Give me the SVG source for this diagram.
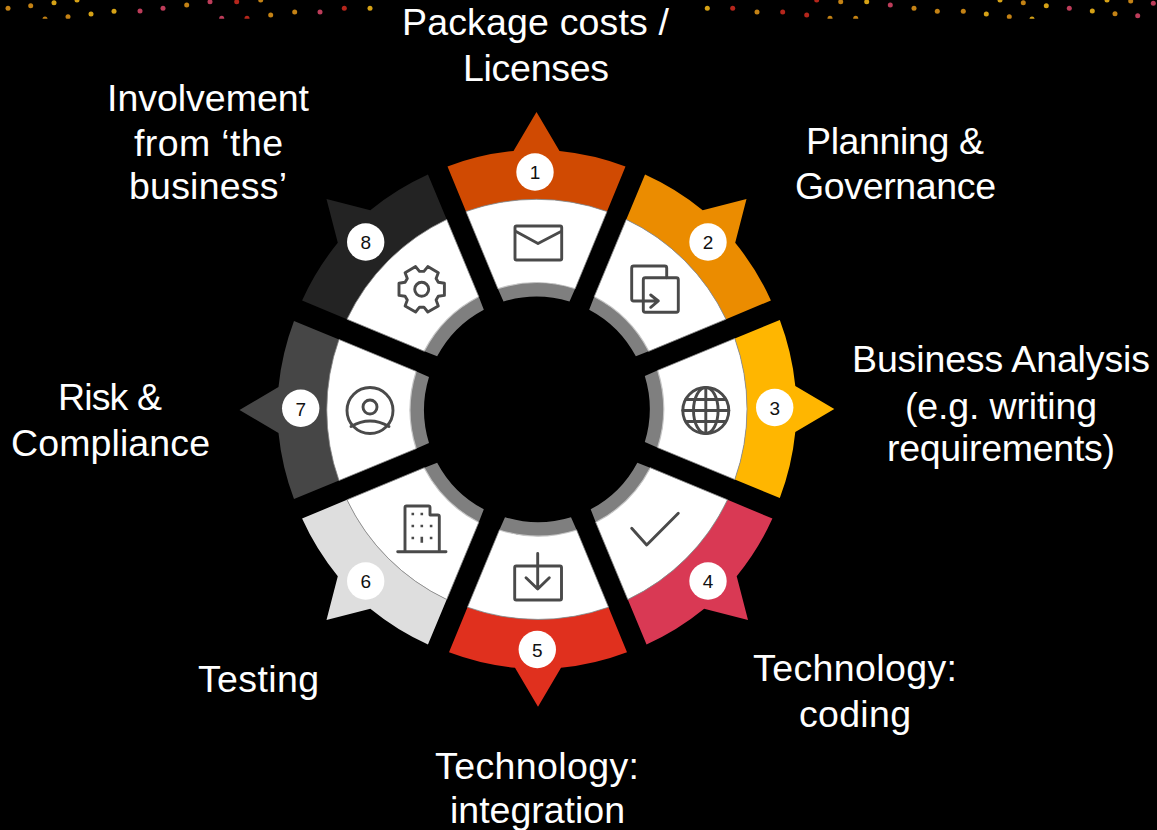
<svg xmlns="http://www.w3.org/2000/svg" width="1157" height="830" viewBox="0 0 1157 830">
<style>
.lbl{font-family:"Liberation Sans",Arial,sans-serif;font-size:37.5px;fill:#fff;text-anchor:middle}
.num{font-family:"Liberation Sans",Arial,sans-serif;font-size:19px;fill:#111;text-anchor:middle}
.badge{fill:#fff}
.ic{fill:none;stroke:#4a4a4a;stroke-width:2.9;stroke-linejoin:round;stroke-linecap:round}
.dot{fill:#4a4a4a}
.o{fill:#c48212}.y{fill:#d6a214}.p{fill:#bd3c5a}.r{fill:#b5261c}
</style>
<defs>
<path id="band" d="M-89,-242.5A259 259 0 0 1 -23,-258L0,-297L23,-258A259 259 0 0 1 89,-242.5L70.5,-197.5A209.5 209.5 0 0 0 -70.5,-197.5Z"/>
<g id="face">
<path d="M-70.5,-197.5A209.5 209.5 0 0 1 70.5,-197.5L38.5,-120A126 126 0 0 0 -38.5,-120Z" fill="#fff" stroke="#8c8c8c" stroke-width="0.8"/>
<path d="M-38.5,-120A126 126 0 0 1 38.5,-120L33,-107.5A112.5 112.5 0 0 0 -33,-107.5Z" fill="#7f7f7f"/>
<path d="M-38,-120.5A126 126 0 0 1 38,-120.5" fill="none" stroke="#c6c6c6" stroke-width="1.2"/>
</g>
<filter id="soft" x="-50%" y="-50%" width="200%" height="200%"><feGaussianBlur stdDeviation="0.7"/></filter>
<clipPath id="strip"><rect x="0" y="0" width="1157" height="18.7"/></clipPath>
</defs>
<rect width="1157" height="830" fill="#000"/>
<g id="stars" clip-path="url(#strip)"><g filter="url(#soft)">
<circle class="o" cx="8" cy="8.3" r="2.5"/><circle class="o" cx="30.7" cy="5.7" r="2.5"/><circle class="y" cx="54" cy="2.7" r="2.5"/><circle class="y" cx="77" cy="0" r="2.5"/><circle class="o" cx="45" cy="19" r="2.5"/><circle class="o" cx="68" cy="16.7" r="2.5"/><circle class="y" cx="91" cy="14" r="2.5"/><circle class="y" cx="114" cy="11.3" r="2.5"/><circle class="p" cx="140" cy="11" r="2.5"/><circle class="p" cx="163" cy="8.3" r="2.5"/><circle class="o" cx="186.7" cy="5" r="2.5"/><circle class="p" cx="210" cy="1.7" r="2.5"/><circle class="r" cx="236.7" cy="1.7" r="2.5"/><circle class="o" cx="260.7" cy="0" r="2.5"/><circle class="p" cx="221.7" cy="18.3" r="2.5"/><circle class="r" cx="247" cy="18.3" r="2.5"/><circle class="o" cx="270.7" cy="15" r="2.5"/><circle class="o" cx="294.7" cy="12" r="2.5"/><circle class="p" cx="320" cy="12" r="2.5"/><circle class="r" cx="344.3" cy="8.3" r="2.5"/><circle class="y" cx="370" cy="8.3" r="2.5"/>
<circle class="y" cx="707.3" cy="8.3" r="2.5"/><circle class="r" cx="732.7" cy="8.3" r="2.5"/><circle class="o" cx="757" cy="12" r="2.5"/><circle class="r" cx="782.7" cy="12" r="2.5"/><circle class="r" cx="806.7" cy="15" r="2.5"/><circle class="o" cx="830" cy="18.3" r="2.5"/><circle class="o" cx="855.7" cy="18.3" r="2.5"/><circle class="r" cx="816.7" cy="0" r="2.5"/><circle class="o" cx="840.7" cy="1.7" r="2.5"/><circle class="y" cx="866.7" cy="1.7" r="2.5"/><circle class="p" cx="890.3" cy="5" r="2.5"/><circle class="o" cx="914" cy="8.3" r="2.5"/><circle class="o" cx="937.3" cy="11.3" r="2.5"/><circle class="o" cx="963.3" cy="11.3" r="2.5"/><circle class="y" cx="986.3" cy="14" r="2.5"/><circle class="o" cx="1009.3" cy="16.7" r="2.5"/><circle class="y" cx="1032" cy="19" r="2.5"/><circle class="y" cx="1000" cy="0" r="2.5"/><circle class="o" cx="1023.3" cy="2.7" r="2.5"/><circle class="y" cx="1046.3" cy="5.7" r="2.5"/><circle class="p" cx="1069.3" cy="8.3" r="2.5"/><circle class="y" cx="1092.3" cy="11" r="2.5"/><circle class="o" cx="1115" cy="13.7" r="2.5"/><circle class="p" cx="1137.7" cy="15.7" r="2.5"/><circle class="y" cx="1107" cy="0" r="2.5"/><circle class="o" cx="1130.7" cy="1" r="2.5"/><circle class="p" cx="1153.3" cy="3.3" r="2.5"/>
</g></g>
<g id="node-1">
<g transform="translate(536.5,409)"><use href="#band" fill="#d04a02"/><use href="#face"/></g>
<circle class="badge" cx="535" cy="172" r="18.7"/><text class="num" x="535" y="179">1</text>
<rect class="ic" x="515" y="226" width="46.7" height="34" rx="1.5"/><path class="ic" d="M516,231.5L538,243.5L561,231.5"/>
<text class="lbl" x="535.5" y="35" textLength="267">Package costs /</text><text class="lbl" x="536" y="81" textLength="146">Licenses</text>
</g>
<g id="node-2">
<g transform="translate(536.5,409) rotate(45)"><use href="#band" fill="#eb8c00"/><use href="#face"/></g>
<circle class="badge" cx="708" cy="242" r="18.7"/><text class="num" x="708" y="249.3">2</text>
<path class="ic" d="M666.7,277.7V268Q666.7,266 664.7,266H633.7Q631.7,266 631.7,268V299Q631.7,301 633.7,301H658.3M650.7,295L658.3,301L650.7,307.3"/>
<rect class="ic" x="643.3" y="277.7" width="35" height="34.6" rx="2"/>
<text class="lbl" x="895" y="154" textLength="178">Planning &amp;</text><text class="lbl" x="895.5" y="199" textLength="201">Governance</text>
</g>
<g id="node-3">
<g transform="translate(537.3,409) rotate(90)"><use href="#band" fill="#ffb600"/><use href="#face"/></g>
<circle class="badge" cx="774.7" cy="407.5" r="18.7"/><text class="num" x="774.7" y="414.8">3</text>
<circle class="ic" cx="705.8" cy="410.5" r="23"/><ellipse class="ic" cx="705.8" cy="410.5" rx="12.3" ry="23"/><path class="ic" d="M705.8,387.5V433.5M682.8,410.5H728.8M685.8,399.5H725.8M685.8,421.5H725.8"/>
<text class="lbl" x="1001" y="372" textLength="298">Business Analysis</text><text class="lbl" x="1001" y="419" textLength="192">(e.g. writing</text><text class="lbl" x="1001" y="461" textLength="228">requirements)</text>
</g>
<g id="node-4">
<g transform="translate(538,410) rotate(135)"><use href="#band" fill="#d93954"/><use href="#face"/></g>
<circle class="badge" cx="708" cy="581" r="18.7"/><text class="num" x="708" y="588.3">4</text>
<path class="ic" d="M631.7,528.3L646.7,545L678.3,513.3"/>
<text class="lbl" x="855" y="681" textLength="204">Technology:</text><text class="lbl" x="855" y="727" textLength="112">coding</text>
</g>
<g id="node-5">
<g transform="translate(538,409.7) rotate(180)"><use href="#band" fill="#e0301e"/><use href="#face"/></g>
<circle class="badge" cx="537.3" cy="649.5" r="18.7"/><text class="num" x="537.3" y="656.8">5</text>
<rect class="ic" x="514.7" y="566" width="46.8" height="34" rx="1.5"/><path class="ic" d="M537.7,553.5V589M526,577.7L537.7,589L549.3,577.7"/>
<text class="lbl" x="537" y="779" textLength="204">Technology:</text><text class="lbl" x="537.5" y="823" textLength="175">integration</text>
</g>
<g id="node-6">
<g transform="translate(536.5,410) rotate(225)"><use href="#band" fill="#dedede"/><use href="#face"/></g>
<circle class="badge" cx="365.7" cy="581" r="18.7"/><text class="num" x="365.7" y="588.3">6</text>
<path class="ic" d="M405,551.7V507.5Q405,506 406.5,506H428.5Q430,506 430,507.5V515H437.8Q439.3,515 439.3,516.5V551.7M397.7,551.7H446"/>
<path class="dot" d="M411.5,512.7h2.6v2.6h-2.6zM420.5,512.7h2.6v2.6h-2.6zM411.5,524.7h2.6v2.6h-2.6zM420.5,524.7h2.6v2.6h-2.6zM429.8,524.7h2.6v2.6h-2.6zM411.5,536.7h2.6v2.6h-2.6zM420.5,536.7h2.6v6h-2.6zM429.8,536.7h2.6v2.6h-2.6z"/>
<text class="lbl" x="258.5" y="692" textLength="121">Testing</text>
</g>
<g id="node-7">
<g transform="translate(536.5,410) rotate(270)"><use href="#band" fill="#464646"/><use href="#face"/></g>
<circle class="badge" cx="300.7" cy="408.3" r="18.7"/><text class="num" x="300.7" y="415.6">7</text>
<circle class="ic" cx="370" cy="410.5" r="23"/><circle class="ic" cx="370" cy="407" r="7"/><path class="ic" d="M351,426.5Q370,415.5 389,426.5"/>
<text class="lbl" x="110" y="410" textLength="104">Risk &amp;</text><text class="lbl" x="110.5" y="456" textLength="199">Compliance</text>
</g>
<g id="node-8">
<g transform="translate(536.5,409) rotate(315)"><use href="#band" fill="#232323"/><use href="#face"/></g>
<circle class="badge" cx="365.7" cy="242" r="18.7"/><text class="num" x="365.7" y="249.3">8</text>
<g transform="translate(421.7,289.3)"><path class="ic" d="M16.6,-7L22.7,-6.1L22.7,6.1L16.6,7L14.4,10.8L16.6,16.6L6.1,22.7L2.2,17.9L-2.2,17.9L-6.1,22.7L-16.6,16.6L-14.4,10.8L-16.6,7L-22.7,6.1L-22.7,-6.1L-16.6,-7L-14.4,-10.8L-16.6,-16.6L-6.1,-22.7L-2.2,-17.9L2.2,-17.9L6.1,-22.7L16.6,-16.6L14.4,-10.8Z"/><circle class="ic" r="7"/></g>
<text class="lbl" x="208" y="111" textLength="202">Involvement</text><text class="lbl" x="208.5" y="156" textLength="149">from ‘the</text><text class="lbl" x="208" y="199" textLength="158">business’</text>
</g>
</svg>
